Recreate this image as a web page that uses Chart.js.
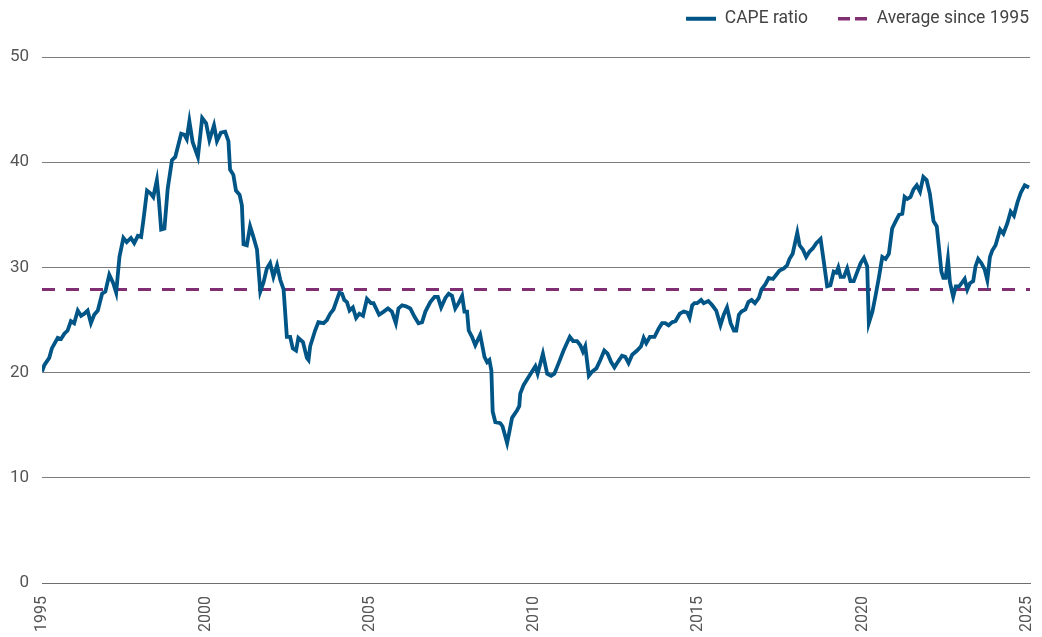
<!DOCTYPE html>
<html>
<head>
<meta charset="utf-8">
<script src="https://cdn.jsdelivr.net/npm/chart.js@4"></script>
<style>
  html, body { margin: 0; padding: 0; background: #fff; }
  #wrap { width: 1042px; height: 637px; }
</style>
</head>
<body>
<div id="wrap"><canvas id="cape"></canvas></div>
<script>
// time axis (decimal years) and CAPE values
const YEARS = [
  1995.00, 1995.07, 1995.22, 1995.30, 1995.48, 1995.58, 1995.68, 1995.78, 1995.88, 1995.98,
  1996.09, 1996.19, 1996.29, 1996.39, 1996.49, 1996.59, 1996.70, 1996.83, 1996.93, 1997.05,
  1997.17, 1997.26, 1997.36, 1997.48, 1997.58, 1997.71, 1997.81, 1997.92, 1998.02, 1998.09,
  1998.20, 1998.32, 1998.39, 1998.50, 1998.56, 1998.63, 1998.73, 1998.83, 1998.96, 1999.06,
  1999.24, 1999.34, 1999.41, 1999.49, 1999.59, 1999.75, 1999.88, 2000.00, 2000.10, 2000.24,
  2000.33, 2000.45, 2000.58, 2000.68, 2000.73, 2000.83, 2000.91, 2001.02, 2001.09, 2001.14,
  2001.24, 2001.34, 2001.44, 2001.55, 2001.65, 2001.75, 2001.85, 2001.95, 2002.05, 2002.16,
  2002.26, 2002.36, 2002.46, 2002.56, 2002.64, 2002.74, 2002.81, 2002.95, 2003.07, 2003.12,
  2003.17, 2003.32, 2003.42, 2003.58, 2003.68, 2003.78, 2003.88, 2003.98, 2004.06, 2004.14,
  2004.21, 2004.29, 2004.37, 2004.47, 2004.57, 2004.67, 2004.78, 2004.90, 2005.02, 2005.10,
  2005.27, 2005.41, 2005.54, 2005.66, 2005.78, 2005.86, 2005.97, 2006.09, 2006.22, 2006.35,
  2006.47, 2006.58, 2006.68, 2006.83, 2006.96, 2007.06, 2007.16, 2007.29, 2007.39, 2007.49,
  2007.59, 2007.69, 2007.80, 2007.87, 2007.95, 2008.00, 2008.10, 2008.20, 2008.35, 2008.48,
  2008.56, 2008.63, 2008.69, 2008.73, 2008.81, 2008.96, 2009.03, 2009.17, 2009.24, 2009.32,
  2009.47, 2009.54, 2009.57, 2009.67, 2009.81, 2009.93, 2010.03, 2010.10, 2010.26, 2010.39,
  2010.51, 2010.61, 2010.74, 2010.89, 2011.08, 2011.18, 2011.30, 2011.40, 2011.48, 2011.55,
  2011.66, 2011.76, 2011.89, 2012.01, 2012.13, 2012.23, 2012.34, 2012.44, 2012.54, 2012.67,
  2012.77, 2012.87, 2012.98, 2013.13, 2013.25, 2013.33, 2013.41, 2013.52, 2013.66, 2013.79,
  2013.89, 2013.99, 2014.09, 2014.20, 2014.30, 2014.43, 2014.55, 2014.66, 2014.73, 2014.81,
  2014.88, 2014.96, 2015.08, 2015.16, 2015.30, 2015.42, 2015.54, 2015.67, 2015.77, 2015.87,
  2015.98, 2016.08, 2016.15, 2016.23, 2016.31, 2016.43, 2016.52, 2016.62, 2016.72, 2016.84,
  2016.92, 2017.04, 2017.14, 2017.27, 2017.37, 2017.47, 2017.60, 2017.70, 2017.77, 2017.87,
  2018.01, 2018.08, 2018.18, 2018.28, 2018.38, 2018.48, 2018.59, 2018.72, 2018.82, 2018.92,
  2019.02, 2019.12, 2019.20, 2019.26, 2019.33, 2019.43, 2019.53, 2019.63, 2019.73, 2019.84,
  2019.94, 2020.04, 2020.14, 2020.19, 2020.30, 2020.40, 2020.50, 2020.60, 2020.70, 2020.80,
  2020.90, 2021.01, 2021.11, 2021.21, 2021.28, 2021.36, 2021.46, 2021.55, 2021.65, 2021.75,
  2021.85, 2021.95, 2022.05, 2022.16, 2022.26, 2022.33, 2022.40, 2022.46, 2022.53, 2022.60,
  2022.66, 2022.76, 2022.84, 2022.94, 2023.04, 2023.11, 2023.19, 2023.27, 2023.37, 2023.44,
  2023.52, 2023.62, 2023.72, 2023.80, 2023.88, 2023.95, 2024.05, 2024.19, 2024.29, 2024.41,
  2024.51, 2024.61, 2024.72, 2024.82, 2024.94, 2025.07
];
const CAPE = [
  20.1, 20.7, 21.4, 22.3, 23.3, 23.2, 23.7, 24.0, 24.9, 24.7,
  25.9, 25.4, 25.6, 25.9, 24.7, 25.5, 25.9, 27.5, 27.7, 29.3,
  28.5, 27.6, 31.0, 32.8, 32.4, 32.8, 32.3, 33.0, 32.9, 34.5,
  37.3, 37.0, 36.7, 38.3, 36.4, 33.6, 33.7, 37.5, 40.2, 40.5,
  42.7, 42.6, 42.2, 43.9, 41.9, 40.5, 44.2, 43.7, 42.1, 43.5,
  42.0, 42.8, 42.9, 42.0, 39.3, 38.8, 37.3, 36.9, 35.9, 32.2,
  32.1, 33.9, 32.9, 31.7, 27.7, 28.6, 29.9, 30.4, 29.1, 30.2,
  28.8, 27.9, 23.4, 23.4, 22.3, 22.1, 23.3, 22.9, 21.4, 21.2,
  22.5, 24.0, 24.8, 24.7, 25.0, 25.6, 26.0, 26.9, 27.6, 27.5,
  26.9, 26.7, 25.9, 26.2, 25.2, 25.6, 25.4, 27.0, 26.6, 26.6,
  25.5, 25.8, 26.1, 25.8, 24.7, 26.1, 26.4, 26.3, 26.1, 25.3,
  24.7, 24.8, 25.8, 26.7, 27.2, 27.2, 26.2, 27.1, 27.5, 27.3,
  26.1, 26.6, 27.3, 25.8, 25.8, 24.0, 23.4, 22.6, 23.6, 21.5,
  21.0, 21.2, 20.2, 16.3, 15.3, 15.2, 14.9, 13.3, 14.4, 15.7,
  16.4, 16.8, 18.0, 18.8, 19.5, 20.1, 20.6, 19.9, 21.8, 19.9,
  19.7, 19.9, 20.9, 22.1, 23.4, 23.0, 23.0, 22.6, 22.0, 22.5,
  19.7, 20.1, 20.4, 21.2, 22.1, 21.8, 21.0, 20.5, 21.0, 21.6,
  21.5, 20.9, 21.7, 22.1, 22.5, 23.3, 22.8, 23.4, 23.4, 24.2,
  24.7, 24.7, 24.5, 24.8, 24.9, 25.6, 25.8, 25.7, 25.2, 26.4,
  26.6, 26.6, 26.9, 26.6, 26.8, 26.4, 25.9, 24.5, 25.5, 26.2,
  24.7, 24.0, 24.0, 25.5, 25.8, 26.0, 26.7, 26.9, 26.6, 27.1,
  27.9, 28.4, 29.0, 28.9, 29.3, 29.7, 29.9, 30.2, 30.8, 31.3,
  33.3, 32.1, 31.7, 31.0, 31.5, 31.8, 32.3, 32.7, 30.5, 28.2,
  28.3, 29.6, 29.5, 30.0, 29.1, 29.1, 29.9, 28.7, 28.7, 29.6,
  30.4, 30.9, 30.1, 24.7, 25.8, 27.4, 29.1, 31.0, 30.8, 31.3,
  33.7, 34.4, 35.0, 35.1, 36.7, 36.5, 36.7, 37.4, 37.8, 37.2,
  38.6, 38.3, 37.0, 34.4, 33.9, 31.8, 29.6, 29.0, 29.0, 30.8,
  28.6, 27.2, 28.2, 28.2, 28.6, 28.9, 27.9, 28.5, 28.7, 30.1,
  30.8, 30.4, 29.8, 28.8, 31.0, 31.6, 32.1, 33.6, 33.2, 34.2,
  35.3, 34.9, 36.2, 37.1, 37.8, 37.6
];
const AVG_SINCE_1995 = 27.9;
const X_TICKS = [1995, 2000, 2005, 2010, 2015, 2020, 2025];
const Y_TICKS = [0, 10, 20, 30, 40, 50];

const BLUE = '#005587';
const PURPLE = '#802f72';
const FONT_TXT = 'Roboto, sans-serif';

const X_MIN = 1995, X_MAX = 2025.1;
const LEGEND_GAP = 30;

// legend placement tweaks (chart.js has no direct option for these)
const legendTweak = {
    id: 'legendTweak',
    afterInit(chart) {
        const lg = chart.legend;
        const fit = lg.fit;
        lg.fit = function() { fit.call(this); this.height = 57; };
    },
    afterLayout(chart) {
        const lg = chart.legend;
        lg.top = 10 - LEGEND_GAP;
        lg.right = 1029 + LEGEND_GAP;
    }
};

new Chart(document.getElementById('cape'), {
    type: 'line',
    data: {
        datasets: [
            {
                label: 'CAPE ratio',
                data: YEARS.map((y, i) => ({ x: y, y: CAPE[i] })),
                borderColor: BLUE,
                backgroundColor: BLUE,
                borderWidth: 3.8,
                pointRadius: 0,
                tension: 0,
                order: 1
            },
            {
                label: 'Average since 1995',
                data: [{ x: X_MIN, y: AVG_SINCE_1995 }, { x: X_MAX, y: AVG_SINCE_1995 }],
                borderColor: PURPLE,
                backgroundColor: PURPLE,
                borderWidth: 3,
                borderDash: [13, 11],
                pointRadius: 0,
                order: 2
            }
        ]
    },
    options: {
        responsive: true,
        maintainAspectRatio: false,
        animation: false,
        layout: { padding: { left: 0, right: 12, top: 0, bottom: 0 } },
        plugins: {
            tooltip: { enabled: false },
            legend: {
                position: 'top',
                align: 'end',
                labels: {
                    usePointStyle: true,
                    pointStyleWidth: 30,
                    boxHeight: 10,
                    padding: LEGEND_GAP,
                    color: '#444',
                    font: { family: FONT_TXT, size: 17.5 },
                    generateLabels(chart) {
                        return chart.data.datasets.map((ds, i) => ({
                            text: ds.label,
                            datasetIndex: i,
                            pointStyle: 'line',
                            strokeStyle: ds.borderColor,
                            fillStyle: ds.borderColor,
                            lineWidth: i === 0 ? 4 : 3.5,
                            lineDash: i === 0 ? [] : [12, 5],
                            fontColor: '#444',
                            hidden: false
                        }));
                    }
                }
            }
        },
        scales: {
            x: {
                type: 'linear',
                min: X_MIN,
                max: X_MAX,
                afterFit: s => { s.height = 54; s.paddingLeft = 0; s.paddingRight = 0; },
                afterBuildTicks: s => { s.ticks = X_TICKS.map(v => ({ value: v })); },
                grid: { display: false, drawTicks: false },
                border: { display: true, color: '#6e6e6e', width: 1 },
                ticks: {
                    autoSkip: false,
                    minRotation: 90,
                    maxRotation: 90,
                    padding: 13,
                    color: '#555',
                    font: { family: FONT_TXT, size: 16 },
                    callback: v => String(v)
                }
            },
            y: {
                min: 0,
                max: 50,
                afterFit: s => { s.width = 42; },
                afterBuildTicks: s => { s.ticks = Y_TICKS.map(v => ({ value: v })); },
                grid: { color: '#7c7c7c', lineWidth: 1, drawTicks: false },
                border: { display: false },
                ticks: {
                    padding: 13,
                    color: '#555',
                    font: { family: FONT_TXT, size: 17 }
                }
            }
        }
    },
    plugins: [legendTweak]
});
</script>
</body>
</html>
